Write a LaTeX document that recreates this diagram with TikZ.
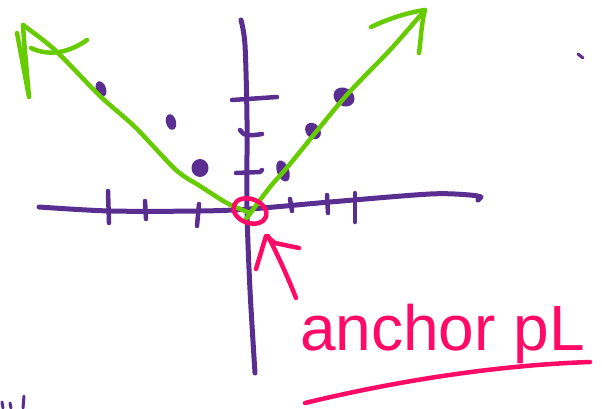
\documentclass[tikz,border=0pt]{standalone}
\usepackage{fontspec}
\setmainfont{Liberation Sans}
\definecolor{ink}{HTML}{5A2D91}
\definecolor{leaf}{HTML}{66CC00}
\definecolor{hot}{HTML}{FF0A66}
\begin{document}
\begin{tikzpicture}[x=1pt,y=-1pt,line cap=round,line join=round,
  axis/.style={ink,line width=5pt},
  tick/.style={ink,line width=4.5pt},
  dot/.style={ink,fill=ink},
  greenline/.style={leaf,line width=4.5pt},
  pinkline/.style={hot,line width=4.5pt}]
\useasboundingbox (0,0) rectangle (602,408);
% axes
\draw[axis] plot[smooth] coordinates {(39,207) (110,211) (200,211) (250,209) (330,202) (430,194) (470,195) (481,197)} -- (478,200);
\draw[axis] plot[smooth] coordinates {(241,20) (245,45) (247,120) (247,210) (250,290) (255,373)};
% x ticks
\draw[tick] (108,191) -- (109,223);
\draw[tick] (145,201) -- (146,219);
\draw[tick] (199,204) -- (197,226);
\draw[tick] (290,199) -- (292,211);
\draw[tick] (327,195) -- (328,213);
\draw[tick] (355,193) -- (355,222);
% y ticks
\draw[tick] (232,100) -- (277,97);
\draw[tick] (240,130) .. controls (243,136) and (250,136) .. (262,134);
\draw[tick] (236,173) -- (260,172) -- (262,170);
% dots
\fill[dot,rotate around={-70:(101,89)}] (101,89) ellipse (8 and 5);
\fill[dot,rotate around={-75:(171,122)}] (171,122) ellipse (8 and 5);
\fill[dot] (200,168) ellipse (8.5 and 9);
\fill[dot,rotate around={-70:(283,171)}] (283,171) ellipse (11 and 6);
\fill[dot,rotate around={-50:(313,131)}] (313,131) ellipse (9 and 7);
\fill[dot,rotate around={-30:(344,97)}] (344,97) ellipse (11 and 9);
% green lines
\draw[greenline] plot[smooth] coordinates {(250,213) (240,209) (225,202) (200,186) (176,170) (135,127) (100,96) (55,50) (23,25)};
\draw[greenline] (17,33) -- (29,97) -- (24,40) -- (23,25);
\draw[greenline] (31,48) .. controls (50,57) and (70,52) .. (87,40);
\draw[greenline] plot[smooth] coordinates {(246,219) (270,187) (290,164) (345,97) (390,50) (425,10)};
\draw[greenline] (371,27) .. controls (390,18) and (410,12) .. (425,10) .. controls (421,25) and (421,40) .. (419,53);
% pink circle
\draw[pinkline,rotate around={-20:(250,211)}] (250,211) ellipse (17 and 12);
% pink arrow
\draw[pinkline] (296,298) .. controls (285,270) and (275,250) .. (268,236);
\draw[pinkline] (256,269) -- (266,236) -- (275,243) -- (299,248);
% text
\node[hot,anchor=base west,inner sep=0pt,font=\fontsize{64}{64}\selectfont] (lbl) at (300,350) {anchor pL};
% underline
\draw[pinkline] (305,403) .. controls (400,380) and (500,365) .. (590,362);
% stray marks
\draw[tick,line width=3pt] (578,54) -- (583,58);
\draw[tick,line width=3pt] (2,402) -- (3,408);
\draw[tick,line width=3pt] (10,403) -- (11,408);
\draw[tick,line width=3pt] (24,396) -- (23,408);
\end{tikzpicture}
\end{document}
